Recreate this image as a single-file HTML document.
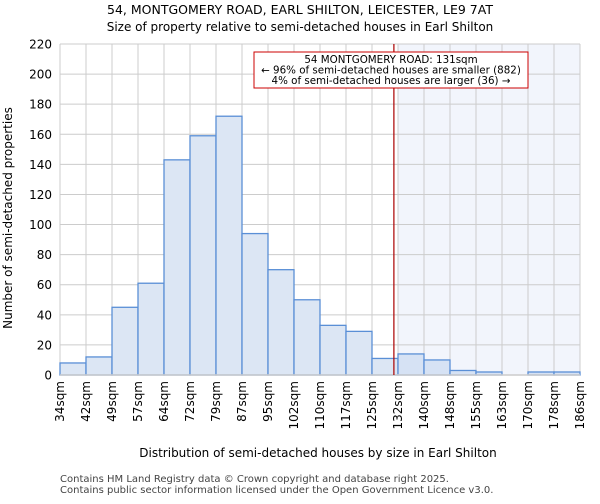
<!DOCTYPE html>
<html><head><meta charset="utf-8"><style>
body{margin:0;background:#fff;font-family:"DejaVu Sans","Liberation Sans",sans-serif;}
</style></head><body>
<svg width="600" height="500" font-family="DejaVu Sans, Liberation Sans, sans-serif">
<text x="300" y="14" text-anchor="middle" font-size="12.5">54, MONTGOMERY ROAD, EARL SHILTON, LEICESTER, LE9 7AT</text>
<text x="300" y="31" text-anchor="middle" font-size="12">Size of property relative to semi-detached houses in Earl Shilton</text>
<g id="plot"></g>
<text x="318" y="457" text-anchor="middle" font-size="12">Distribution of semi-detached houses by size in Earl Shilton</text>
<text transform="translate(12,218) rotate(-90)" text-anchor="middle" font-size="12">Number of semi-detached properties</text>
<text x="60" y="482" font-size="10" fill="#444">Contains HM Land Registry data © Crown copyright and database right 2025.</text>
<text x="60" y="493" font-size="10" fill="#444">Contains public sector information licensed under the Open Government Licence v3.0.</text>
</svg>
<script>
const categories=["34sqm","42sqm","49sqm","57sqm","64sqm","72sqm","79sqm","87sqm","95sqm","102sqm","110sqm","117sqm","125sqm","132sqm","140sqm","148sqm","155sqm","163sqm","170sqm","178sqm","186sqm"];
const counts=[8,12,45,61,143,159,172,94,70,50,33,29,11,14,10,3,2,0,2,2];
const yTicks=[0,20,40,60,80,100,120,140,160,180,200,220];
const markerValue=131;
const edgeValues=[34,41.6,49.2,56.8,64.4,72,79.6,87.2,94.8,102.4,110,117.6,124.6,132.2,140.4,148,155.6,163.2,170.8,178.4,186];
const NS="http://www.w3.org/2000/svg";
const g=document.getElementById('plot');
const L=60,R=580,T=44,B=375;
const bw=(R-L)/counts.length;
const x=i=>L+i*bw;
const y=v=>B-(v/220)*(B-T);
function xv(v){for(let i=0;i<edgeValues.length-1;i++){if(v<=edgeValues[i+1])return x(i)+(v-edgeValues[i])/(edgeValues[i+1]-edgeValues[i])*bw;}return R;}
function mk(t,a){const e=document.createElementNS(NS,t);for(const k in a)e.setAttribute(k,a[k]);g.appendChild(e);return e;}
let bg=mk('rect',{x:L,y:T,width:R-L,height:B-T,fill:'#fff'});


const mx=xv(markerValue);
let sh=mk('rect',{x:x(13),y:T,width:R-x(13),height:B-T,fill:'#f2f5fc'});


yTicks.forEach(t=>{
 let l=mk('line',{x1:L,x2:R,y1:y(t),y2:y(t),stroke:'#cccccc','stroke-width':1});
 
 
 let tx=mk('text',{x:L-8,y:y(t)+4.5,'text-anchor':'end','font-size':12});
 tx.textContent=t;
 
 
});
categories.forEach((c,i)=>{
 let l=mk('line',{x1:x(i),x2:x(i),y1:T,y2:B,stroke:'#cccccc','stroke-width':1});
 
 
 let tx=mk('text',{transform:`translate(${x(i)+4},${B+6}) rotate(-90)`,'text-anchor':'end','font-size':12});
 tx.textContent=c;
 
 
});
counts.forEach((v,i)=>{
 let r=mk('rect',{x:x(i),y:y(v),width:bw,height:B-y(v),fill:i>=13?'#d6e2f4':'#dce6f4',stroke:'#5a8fd6','stroke-width':1.3});
 
 
});
let ax=mk('line',{x1:L,x2:R,y1:B,y2:B,stroke:'#cccccc','stroke-width':1.5});


let ml=mk('line',{x1:mx,x2:mx,y1:T,y2:B,stroke:'#aa0000','stroke-width':1.2});


let box=mk('rect',{x:254,y:52,width:274,height:36,fill:'#fff',stroke:'#cc0000','stroke-width':1});


["54 MONTGOMERY ROAD: 131sqm","← 96% of semi-detached houses are smaller (882)","4% of semi-detached houses are larger (36) →"].forEach((s,i)=>{
 let t=mk('text',{x:391,y:63+i*10.5,'text-anchor':'middle','font-size':10.3});
 t.textContent=s;
 
 
});
</script>
</body></html>
